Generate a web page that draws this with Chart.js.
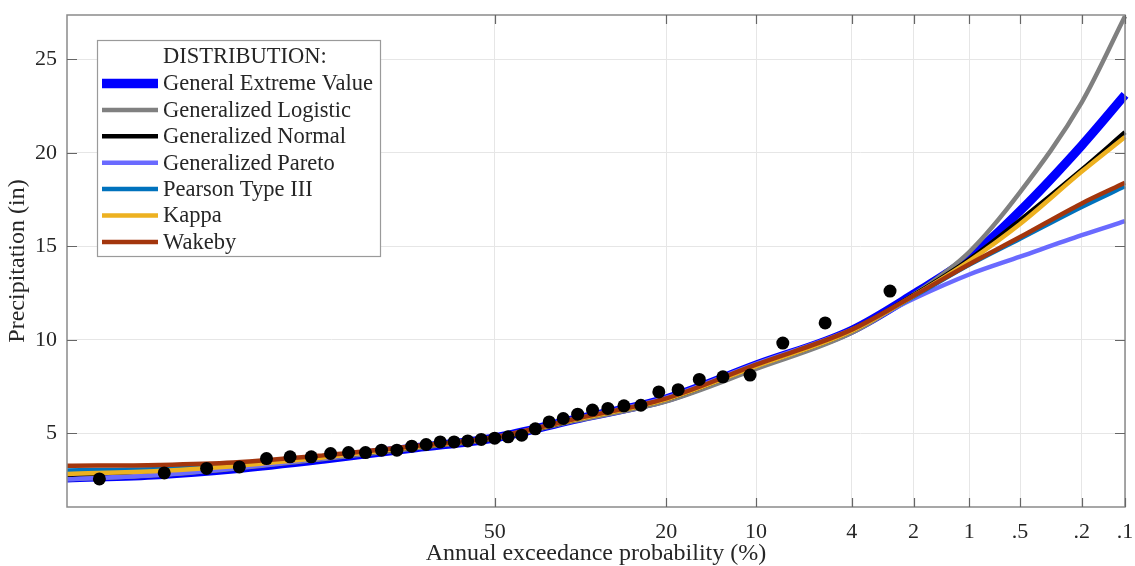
<!DOCTYPE html>
<html>
<head>
<meta charset="utf-8">
<script src="https://cdn.jsdelivr.net/npm/chart.js@4.4.1/dist/chart.umd.min.js"></script>
<style>
html,body{margin:0;padding:0;background:#fff;}
#wrap{width:1135px;height:566px;position:relative;}
</style>
</head>
<body>
<div id="wrap"><canvas id="c" width="1135" height="566"></canvas></div>
<script>
// ---------- DATA ----------
const seriesNames = ['General Extreme Value','Generalized Logistic','Generalized Normal','Generalized Pareto','Pearson Type III','Kappa','Wakeby'];
const seriesColors = ['#0000ff','#808080','#000000','#6a6aff','#0072bd','#edb120','#a3360d'];
const seriesWidths = [9,4.5,4.5,4.5,4,4.5,4.5];

// annual exceedance probability (%) at which the fitted curves are read
const curveAEP = [98.2, 95, 90, 80, 65, 50, 35, 20, 10, 4, 2, 1, 0.5, 0.2, 0.1];
const gevValues  = [2.62, 2.80, 3.10, 3.62, 4.24, 4.76, 5.74, 6.86, 8.66, 10.52, 12.45, 14.40, 16.90, 20.40, 23.10];
const gloValues  = [2.56, 2.78, 3.12, 3.63, 4.22, 4.73, 5.66, 6.72, 8.45, 10.38, 12.42, 14.70, 17.90, 22.70, 27.30];
const gnoValues  = [2.80, 2.96, 3.23, 3.70, 4.28, 4.76, 5.72, 6.84, 8.62, 10.50, 12.40, 14.30, 16.40, 19.10, 21.10];
const gpaValues  = [2.55, 2.80, 3.14, 3.68, 4.30, 4.80, 5.78, 6.92, 8.72, 10.55, 12.20, 13.50, 14.45, 15.60, 16.35];
const pe3Values  = [3.04, 3.12, 3.32, 3.76, 4.30, 4.77, 5.73, 6.85, 8.64, 10.50, 12.30, 14.00, 15.40, 17.10, 18.20];
const kapValues  = [2.84, 3.00, 3.25, 3.72, 4.28, 4.77, 5.72, 6.83, 8.60, 10.48, 12.36, 14.22, 16.20, 19.00, 20.85];
const wakValues  = [3.27, 3.32, 3.45, 3.83, 4.33, 4.80, 5.76, 6.88, 8.68, 10.55, 12.36, 14.05, 15.50, 17.30, 18.40];
const curveValues = [gevValues, gloValues, gnoValues, gpaValues, pe3Values, kapValues, wakValues];

// observed annual maxima (plotting position AEP %, precipitation in)
const obsAEP = [97.37, 94.74, 92.11, 89.47, 86.84, 84.21, 81.58, 78.95, 76.32, 73.68, 71.05, 68.42, 65.79, 63.16, 60.53, 57.89, 55.26, 52.63, 50.00, 47.37, 44.74, 42.11, 39.47, 36.84, 34.21, 31.58, 28.95, 26.32, 23.68, 21.05, 18.42, 15.79, 13.16, 10.53, 7.89, 5.26, 2.63];
const obsPrecip = [2.57, 2.89, 3.13, 3.21, 3.66, 3.75, 3.75, 3.93, 3.98, 3.98, 4.11, 4.11, 4.32, 4.41, 4.55, 4.55, 4.60, 4.68, 4.75, 4.82, 4.91, 5.25, 5.62, 5.80, 6.03, 6.25, 6.34, 6.48, 6.51, 7.22, 7.34, 7.89, 8.03, 8.12, 9.83, 10.91, 12.61];

const xTickValues = [50, 20, 10, 4, 2, 1, 0.5, 0.2, 0.1];
const xTickLabels = ['50', '20', '10', '4', '2', '1', '.5', '.2', '.1'];
const yTickValues = [5, 10, 15, 20, 25];
const xRange = [98.2, 0.1];
const yRange = [1.07, 27.37];

// ---------- normal probability scale ----------
function invNorm(p) {
  const a = [-3.969683028665376e+01, 2.209460984245205e+02, -2.759285104469687e+02, 1.383577518672690e+02, -3.066479806614716e+01, 2.506628277459239e+00];
  const b = [-5.447609879822406e+01, 1.615858368580409e+02, -1.556989798598866e+02, 6.680131188771972e+01, -1.328068155288572e+01];
  const c = [-7.784894002430293e-03, -3.223964580411365e-01, -2.400758277161838e+00, -2.549671010466624e+00, 4.374664141464968e+00, 2.938163982698783e+00];
  const d = [7.784695709041462e-03, 3.224671290700398e-01, 2.445134137142996e+00, 3.754408661907416e+00];
  const pl = 0.02425, ph = 1 - pl;
  let q, r;
  if (p < pl) { q = Math.sqrt(-2 * Math.log(p)); return (((((c[0]*q+c[1])*q+c[2])*q+c[3])*q+c[4])*q+c[5]) / ((((d[0]*q+d[1])*q+d[2])*q+d[3])*q+1); }
  if (p <= ph) { q = p - 0.5; r = q*q; return (((((a[0]*r+a[1])*r+a[2])*r+a[3])*r+a[4])*r+a[5])*q / (((((b[0]*r+b[1])*r+b[2])*r+b[3])*r+b[4])*r+1); }
  q = Math.sqrt(-2 * Math.log(1 - p));
  return -(((((c[0]*q+c[1])*q+c[2])*q+c[3])*q+c[4])*q+c[5]) / ((((d[0]*q+d[1])*q+d[2])*q+d[3])*q+1);
}
const zOf = aep => invNorm(1 - aep / 100);

class ProbabilityScale extends Chart.Scale {
  determineDataLimits() {
    this.min = this.options.aepStart;
    this.max = this.options.aepEnd;
  }
  buildTicks() {
    return (this.options.tickValues || []).map(v => ({ value: v }));
  }
  getLabelForValue(v) { return String(v); }
  configure() {
    super.configure();
    this._zStart = zOf(this.options.aepStart);
    this._zEnd = zOf(this.options.aepEnd);
  }
  getPixelForValue(v) {
    if (v === null || v === undefined || isNaN(v)) return NaN;
    return this.getPixelForDecimal((zOf(v) - this._zStart) / (this._zEnd - this._zStart));
  }
  getPixelForTick(i) { return this.getPixelForValue(this.ticks[i].value); }
  getValueForPixel(p) {
    const z = this._zStart + this.getDecimalForPixel(p) * (this._zEnd - this._zStart);
    return z;
  }
}
ProbabilityScale.id = 'probability';
ProbabilityScale.defaults = {};
Chart.register(ProbabilityScale);

// ---------- plugins ----------
const FONT = '"Liberation Serif", "Times New Roman", serif';
const TXT = '#262626';

const framePlugin = {
  id: 'frame',
  afterDatasetsDraw(chart) {
    const { ctx, chartArea: a, scales } = chart;
    const x = scales.x, y = scales.y;
    ctx.save();
    ctx.strokeStyle = '#8a8a8a';
    ctx.lineWidth = 1.5;
    ctx.strokeRect(a.left, a.top, a.right - a.left, a.bottom - a.top);
    ctx.strokeStyle = '#666';
    ctx.lineWidth = 1.2;
    ctx.beginPath();
    x.ticks.forEach(t => {
      const px = Math.round(x.getPixelForValue(t.value)) + 0.5;
      ctx.moveTo(px, a.bottom); ctx.lineTo(px, a.bottom - 9);
      ctx.moveTo(px, a.top); ctx.lineTo(px, a.top + 9);
    });
    y.ticks.forEach(t => {
      const py = Math.round(y.getPixelForValue(t.value)) + 0.5;
      ctx.moveTo(a.left, py); ctx.lineTo(a.left + 10, py);
      ctx.moveTo(a.right, py); ctx.lineTo(a.right - 10, py);
    });
    ctx.stroke();
    ctx.restore();
  }
};

const legendPlugin = {
  id: 'boxLegend',
  afterDraw(chart) {
    const ctx = chart.ctx;
    const bx = 97, by = 40, bw = 283, bh = 216;
    ctx.save();
    ctx.fillStyle = '#fff';
    ctx.fillRect(bx, by, bw, bh);
    ctx.strokeStyle = '#9a9a9a';
    ctx.lineWidth = 1.2;
    ctx.strokeRect(bx + 0.5, by + 0.5, bw, bh);
    ctx.font = '22.5px ' + FONT;
    ctx.fillStyle = TXT;
    ctx.textBaseline = 'middle';
    ctx.textAlign = 'left';
    ctx.fillText('DISTRIBUTION:', 163, 57);
    seriesNames.forEach((name, i) => {
      const cy = 83.5 + i * 26.4;
      ctx.strokeStyle = seriesColors[i];
      ctx.lineWidth = i === 0 ? 9.5 : 4.5;
      ctx.beginPath();
      ctx.moveTo(102, cy); ctx.lineTo(158, cy);
      ctx.stroke();
      ctx.fillStyle = TXT;
      ctx.fillText(name, 163, cy + 1);
    });
    ctx.restore();
  }
};

// ---------- datasets ----------
const datasets = [];
datasets.push({
  label: 'Observed',
  data: obsAEP.map((p, i) => ({ x: p, y: obsPrecip[i] })),
  showLine: false,
  pointRadius: 6.5,
  pointBackgroundColor: '#000',
  pointBorderColor: '#000',
  pointBorderWidth: 0,
  order: 0
});
seriesNames.forEach((name, i) => {
  datasets.push({
    label: name,
    data: curveAEP.map((p, j) => ({ x: p, y: curveValues[i][j] })),
    borderColor: seriesColors[i],
    borderWidth: seriesWidths[i],
    pointRadius: 0,
    fill: false,
    cubicInterpolationMode: 'monotone',
    borderCapStyle: 'butt',
    order: 7 - i + 1
  });
});

new Chart(document.getElementById('c'), {
  type: 'line',
  data: { datasets },
  options: {
    responsive: false,
    animation: false,
    events: [],
    layout: { padding: { left: 0, right: 10, top: 15, bottom: 0 } },
    plugins: { legend: { display: false }, tooltip: { enabled: false } },
    scales: {
      x: {
        type: 'probability',
        position: 'bottom',
        aepStart: xRange[0],
        aepEnd: xRange[1],
        tickValues: xTickValues,
        grid: { color: '#e6e6e6', lineWidth: 1, drawTicks: false },
        border: { display: false },
        ticks: {
          autoSkip: false, maxRotation: 0, padding: 12,
          color: TXT, font: { family: FONT, size: 22 },
          callback: (v, i) => xTickLabels[i]
        },
        title: {
          display: true, text: 'Annual exceedance probability (%)',
          color: TXT, font: { family: FONT, size: 24, lineHeight: 1 },
          padding: { top: 0, bottom: 0 }
        },
        afterFit: s => { s.height = 59; s.paddingLeft = 0; s.paddingRight = 0; }
      },
      y: {
        type: 'linear',
        min: yRange[0], max: yRange[1],
        afterBuildTicks: s => { s.ticks = yTickValues.map(v => ({ value: v })); },
        grid: { color: '#e6e6e6', lineWidth: 1, drawTicks: false },
        border: { display: false },
        ticks: { padding: 10, color: TXT, font: { family: FONT, size: 22 } },
        title: {
          display: true, text: 'Precipitation (in)',
          color: TXT, font: { family: FONT, size: 24, lineHeight: 1 },
          padding: { top: 6, bottom: 0 }
        },
        afterFit: s => { s.width = 67; s.paddingTop = 0; s.paddingBottom = 0; }
      }
    }
  },
  plugins: [framePlugin, legendPlugin]
});
</script>
</body>
</html>
